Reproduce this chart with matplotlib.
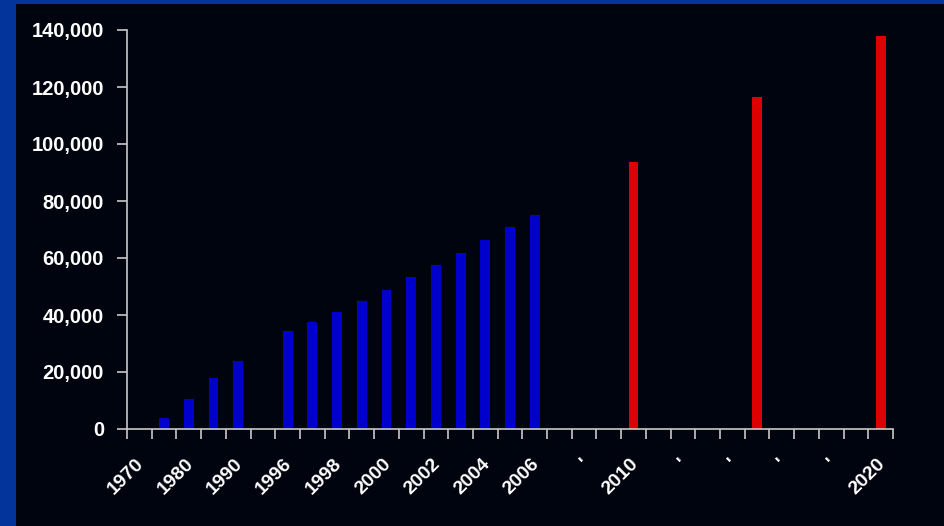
import matplotlib.pyplot as plt
import matplotlib.transforms as mtransforms
from matplotlib.patches import Rectangle
from matplotlib.ticker import FuncFormatter, FixedLocator

# Category labels (31 slots, every other one labelled)
tick_labels = ['1970', '', '1980', '', '1990', '', '1996', '', '1998', '',
               '2000', '', '2002', '', '2004', '', '2006', '', "'", '',
               '2010', '', "'", '', "'", '', "'", '', "'", '', '2020']

# Historical values (first 17 slots)
actual_values = [0, 4000, 10600, 18000, 23700, 0, 34500, 37600, 41200, 44900,
                 48900, 53400, 57400, 61900, 66400, 70900, 75000]

# Projections
projected_slots = [20, 25, 30]
projected_values = [93700, 116500, 137900]

y_ticks = [0, 20000, 40000, 60000, 80000, 100000, 120000, 140000]

BG = '#00040f'
BORDER = '#02349c'
AXIS = '#c8c8c8'

plt.rcParams['font.family'] = ['Liberation Sans', 'DejaVu Sans']

fig = plt.figure(figsize=(9.44, 5.26), dpi=100, facecolor=BORDER)
fig.patches.append(Rectangle((16 / 944, 0), 1, 1 - 4 / 526, transform=fig.transFigure,
                             facecolor=BG, edgecolor='none', zorder=-10))
ax = fig.add_axes([127 / 944, 97 / 526, (893 - 127) / 944, (429 - 30) / 526])
ax.set_facecolor(BG)
ax.set_zorder(1)

x_actual = list(range(len(actual_values)))
ax.bar(x_actual, actual_values, width=0.4, color='#0000cc', zorder=2)
ax.bar(projected_slots, projected_values, width=0.4, color='#dd0000', zorder=2)

ax.set_xlim(-0.5, len(tick_labels) - 0.5)
ax.set_ylim(0, 140000)

# labels at category centres, tick marks at the boundaries
ax.set_xticks(range(len(tick_labels)))
ax.set_xticklabels(tick_labels, rotation=45, ha='right', va='top',
                   rotation_mode='anchor', fontsize=14, fontweight='bold', color='white')
ax.tick_params(axis='x', which='major', length=0, pad=19)
shift = mtransforms.ScaledTranslation(-4 / 100, 0, fig.dpi_scale_trans)
for lbl in ax.get_xticklabels():
    lbl.set_transform(lbl.get_transform() + shift)
ax.xaxis.set_minor_locator(FixedLocator([i - 0.5 for i in range(len(tick_labels) + 1)]))
ax.tick_params(axis='x', which='minor', length=7, width=1.2, color=AXIS, direction='out')

ax.set_yticks(y_ticks)
ax.yaxis.set_major_formatter(FuncFormatter(lambda v, p: f'{int(v):,}'))
ax.tick_params(axis='y', length=7, width=1.2, color=AXIS, labelcolor='white',
               labelsize=14.5, pad=9.5)
for lbl in ax.get_yticklabels():
    lbl.set_fontweight('bold')

for side in ['top', 'right']:
    ax.spines[side].set_visible(False)
for side in ['left', 'bottom']:
    ax.spines[side].set_color(AXIS)
    ax.spines[side].set_linewidth(1.2)

plt.savefig('out.png', dpi=100, facecolor=fig.get_facecolor())
